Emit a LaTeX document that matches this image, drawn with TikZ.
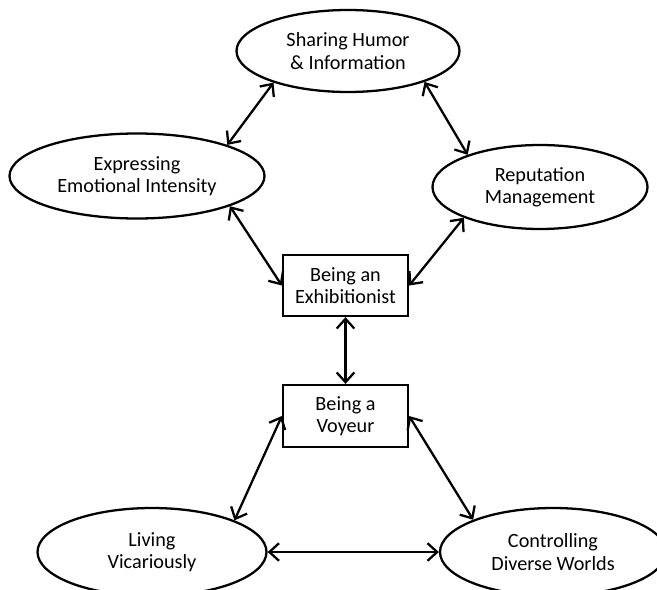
\documentclass[tikz,border=0pt]{standalone}
\usepackage{fontspec}
\setmainfont{Carlito}
\usetikzlibrary{shapes,arrows.meta}
\tikzset{every picture/.style={>={Straight Barb[length=5.5pt,width=10pt]}},
  oval/.style={ellipse,draw,line width=1.3pt,inner sep=0pt,align=center},
  stage/.style={rectangle,draw,line width=1.3pt,inner sep=0pt,align=center,minimum width=2.5cm,minimum height=1.22cm},
  link/.style={<->,line width=1.3pt}}

\begin{document}
\begin{tikzpicture}[font=\fontsize{11.5}{12.8}\selectfont]
  \useasboundingbox (0,0) rectangle (13.14,-11.78);
  \node (share) [oval,minimum width=4.46cm,minimum height=1.64cm] at (6.96,-1.02) {Sharing Humor\\ \& Information};
  \node (express) [oval,minimum width=5.1cm,minimum height=1.7cm] at (2.74,-3.52) {Expressing\\ Emotional Intensity};
  \node (repute) [oval,minimum width=4.3cm,minimum height=1.68cm] at (10.8,-3.74) {Reputation\\ Management};
  \node (exhib) [stage] at (6.91,-5.71) {Being an\\ Exhibitionist};
  \node (voyeur) [stage,minimum height=1.24cm] at (6.91,-8.32) {Being a\\ Voyeur};
  \node (living) [oval,minimum width=4.58cm,minimum height=1.76cm] at (3.04,-11.04) {Living\\ Vicariously};
  \node (control) [oval,minimum width=4.52cm,minimum height=1.76cm] at (11.06,-11.04) {Controlling\\ Diverse Worlds};
  \draw [link] (share.203) -- (express.19);
  \draw [link] (share.338) -- (repute.156);
  \draw [link] (express.342) -- (exhib.west);
  \draw [link] (repute.202) -- (exhib.east);
  \draw [link] (exhib.south) -- (voyeur.north);
  \draw [link] (voyeur.west) -- (living.21);
  \draw [link] (voyeur.east) -- (control.158);
  \draw [link] (living.east) -- (control.west);
\end{tikzpicture}
\end{document}
